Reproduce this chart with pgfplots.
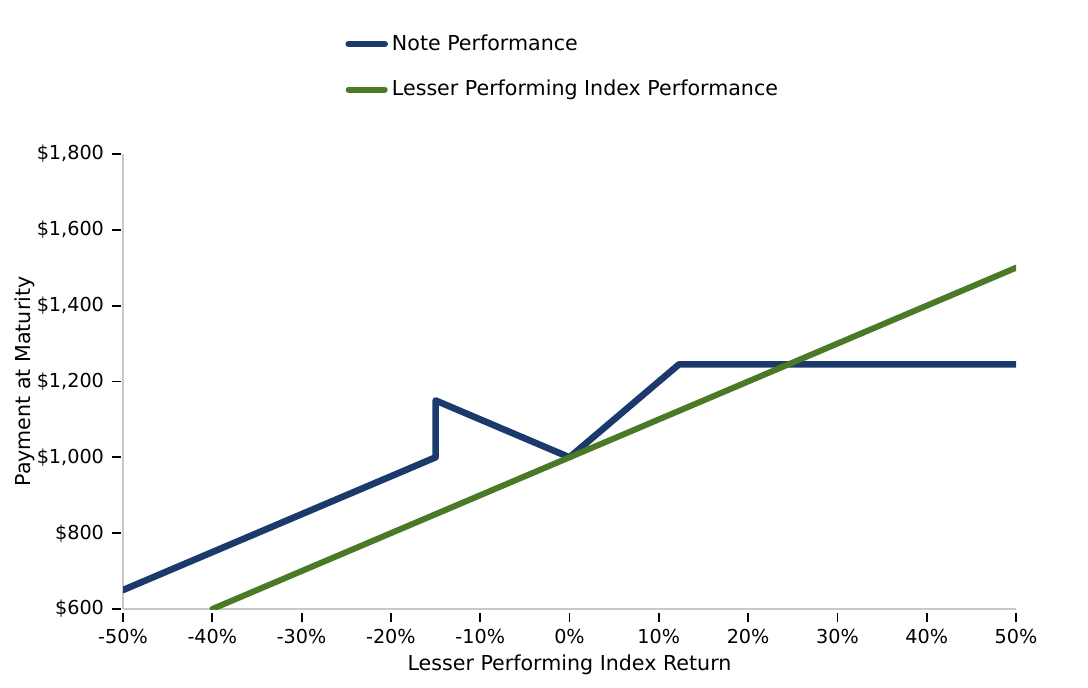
\documentclass[border=0pt]{standalone}
\usepackage{pgfplots}
\pgfplotsset{compat=1.18}
\usepackage{fontspec}
\setmainfont{DejaVu Sans}
\definecolor{navy}{HTML}{1B3A6B}
\definecolor{leaf}{HTML}{4A7A26}
\definecolor{spine}{HTML}{C8C8C8}
\begin{document}
\begin{tikzpicture}
\begin{axis}[
  at={(0,0)}, anchor=south west,
  scale only axis, width=446.5bp, height=227.5bp,
  xmin=-50, xmax=50, ymin=600, ymax=1800,
  axis x line*=bottom, axis y line*=left,
  axis line style={spine, line width=0.8bp, -},
  xtick={-50,-40,...,50},
  xticklabels={-50\%,-40\%,-30\%,-20\%,-10\%,0\%,10\%,20\%,30\%,40\%,50\%},
  ytick={600,800,...,1800},
  yticklabels={\$600,\$800,\$1{,}000,\$1{,}200,\$1{,}400,\$1{,}600,\$1{,}800},
  tick align=outside, major tick length=4.5bp,
  every tick/.style={black, line width=0.9bp},
  xtick style={yshift=-2bp}, ytick style={xshift=-1bp},
  every tick label/.append style={font=\fontsize{9.6bp}{11bp}\selectfont},
  xticklabel style={yshift=-2bp},
  yticklabel style={xshift=-1.5bp},
  xlabel={Lesser Performing Index Return},
  ylabel={Payment at Maturity},
  label style={font=\fontsize{10.3bp}{12bp}\selectfont},
  xlabel style={at={(axis description cs:0.5,0)}, anchor=north, yshift=-19.5bp},
  ylabel style={at={(axis description cs:-0.11,0.5)}, anchor=center, rotate=0},
  legend style={at={(0.2486,1.272)}, anchor=north west, draw=none, fill=none,
    font=\fontsize{10.3bp}{12bp}\selectfont, row sep=9.5bp,
    legend cell align=left, inner sep=0pt},
  legend image code/.code={\draw[#1, line cap=round] (0bp,0bp) -- (18bp,0bp);},
]
\addplot[navy, line width=3.3bp, line join=round, line cap=round] coordinates {
  (-50,650) (-15,1000) (-15,1150) (0,1000) (12.25,1245) (50,1245)};
\addlegendentry{Note Performance}
\addplot[leaf, line width=3bp, line cap=round] coordinates {
  (-40,600) (50,1500)};
\addlegendentry{Lesser Performing Index Performance}
\end{axis}
\pgfresetboundingbox
\path[use as bounding box] (-61.5bp,-39.5bp) rectangle (482.5bp,304.5bp);
\end{tikzpicture}
\end{document}
